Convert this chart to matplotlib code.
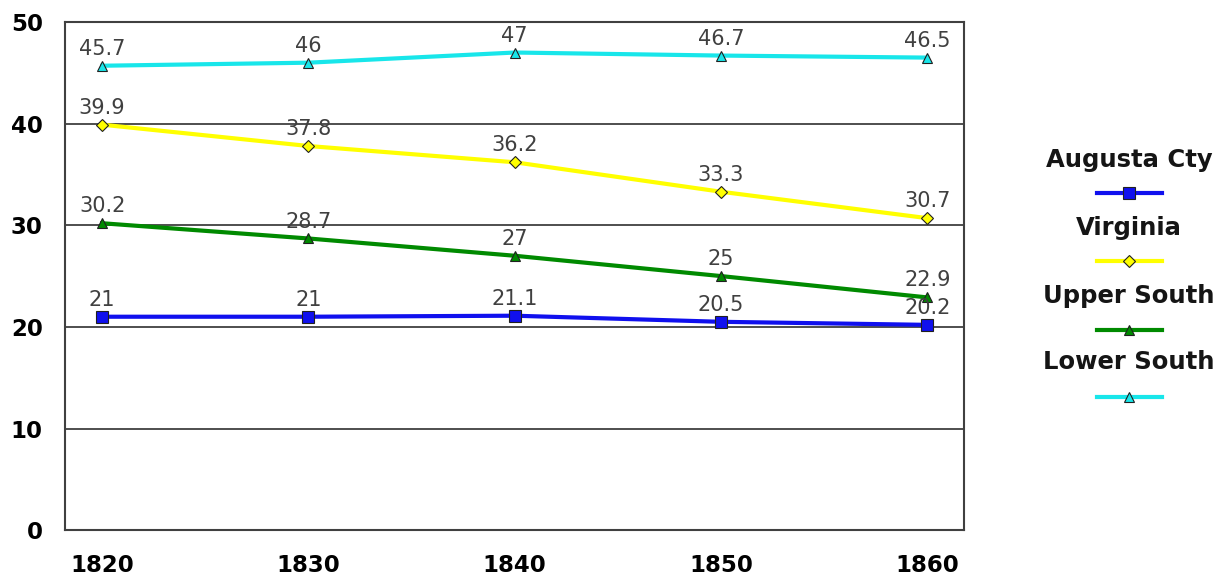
import matplotlib.pyplot as plt
from matplotlib.lines import Line2D

years = [1820, 1830, 1840, 1850, 1860]
augusta = [21, 21, 21.1, 20.5, 20.2]
virginia = [39.9, 37.8, 36.2, 33.3, 30.7]
upper_south = [30.2, 28.7, 27, 25, 22.9]
lower_south = [45.7, 46, 47, 46.7, 46.5]

series = [
    ("Augusta Cty", augusta, "#1010ee", "s", 9),
    ("Virginia", virginia, "#ffff00", "D", 6),
    ("Upper South", upper_south, "#008a00", "^", 7),
    ("Lower South", lower_south, "#18e6ea", "^", 7),
]

plt.rcParams["font.family"] = ["DejaVu Sans"]

fig = plt.figure(figsize=(12.27, 5.8), dpi=100)
ax = fig.add_axes([0.053, 0.086, 0.733, 0.876])

for name, vals, col, mk, ms in series:
    ax.plot(years, vals, color=col, lw=3.0, marker=mk, markersize=ms,
            markerfacecolor=col, markeredgecolor="#202020", markeredgewidth=0.8,
            zorder=3)
    for x, y in zip(years, vals):
        ax.annotate(f"{y:g}", (x, y), xytext=(0, 5), textcoords="offset points",
                    ha="center", va="bottom", fontsize=15, color="#404040",
                    zorder=4)

ax.set_xlim(1818.2, 1861.8)
ax.set_ylim(0, 50)
ax.set_xticks(years)
ax.set_yticks([0, 10, 20, 30, 40, 50])
ax.tick_params(length=0, labelsize=16.5)
ax.tick_params(axis="y", pad=16)
ax.tick_params(axis="x", pad=17)
for lbl in ax.get_xticklabels() + ax.get_yticklabels():
    lbl.set_fontweight("bold")
for y in [10, 20, 30, 40]:
    ax.axhline(y, color="#303030", lw=1.2, zorder=1)
for sp in ax.spines.values():
    sp.set_color("#404040")
    sp.set_linewidth(1.5)

# stacked legend: name above its line sample
W, H = 1227, 580
label_y = [160, 228, 296, 362]
line_y = [193, 261, 330, 397]
for (name, vals, col, mk, ms), ty, ly in zip(series, label_y, line_y):
    fig.text(1129 / W, 1 - ty / H, name, ha="center", va="center",
             fontsize=17.5, fontweight="bold", color="#151515")
    fig.add_artist(Line2D([1097 / W, 1162 / W], [1 - ly / H, 1 - ly / H],
                          color=col, lw=3.0, transform=fig.transFigure))
    fig.add_artist(Line2D([1129 / W], [1 - ly / H], marker=mk, markersize=ms,
                          markerfacecolor=col, markeredgecolor="#202020",
                          markeredgewidth=0.8, transform=fig.transFigure))

fig.savefig("out.png", dpi=100)
